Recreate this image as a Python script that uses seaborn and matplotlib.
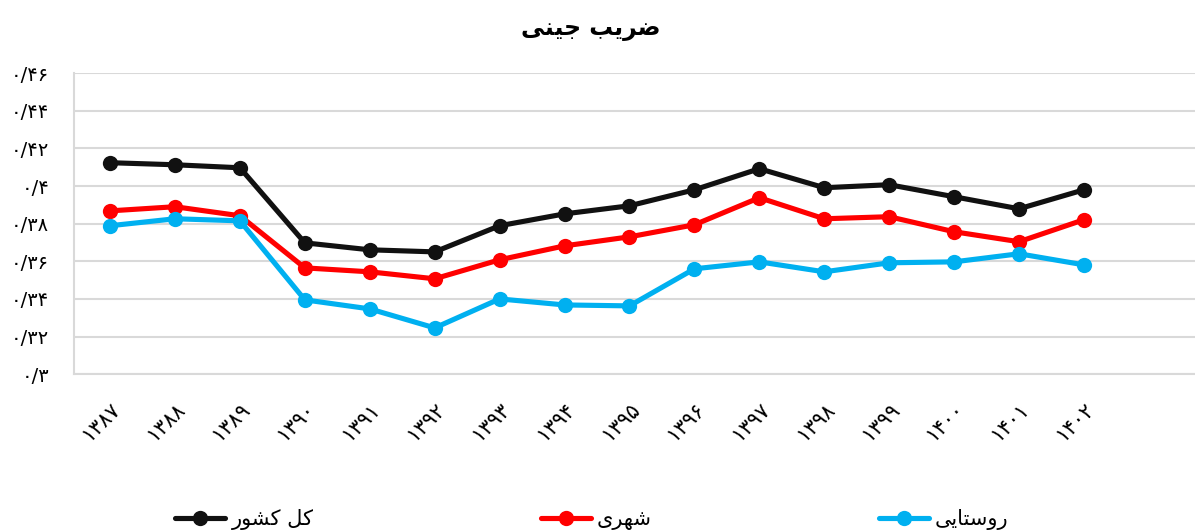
import matplotlib
matplotlib.use("Agg")
import matplotlib.pyplot as plt
import seaborn as sns
import pandas as pd

years = ["۱۳۸۷", "۱۳۸۸", "۱۳۸۹", "۱۳۹۰", "۱۳۹۱", "۱۳۹۲", "۱۳۹۳", "۱۳۹۴",
         "۱۳۹۵", "۱۳۹۶", "۱۳۹۷", "۱۳۹۸", "۱۳۹۹", "۱۴۰۰", "۱۴۰۱", "۱۴۰۲"]
kol = [0.4124, 0.4113, 0.4097, 0.3698, 0.3661, 0.3650, 0.3789, 0.3852,
       0.3895, 0.3980, 0.4092, 0.3991, 0.4007, 0.3943, 0.3879, 0.3980]
shahri = [0.3868, 0.3890, 0.3842, 0.3565, 0.3544, 0.3507, 0.3608, 0.3682,
          0.3730, 0.3794, 0.3938, 0.3826, 0.3837, 0.3757, 0.3704, 0.3821]
roosta = [0.3789, 0.3826, 0.3815, 0.3395, 0.3347, 0.3246, 0.3400, 0.3368,
          0.3363, 0.3560, 0.3597, 0.3544, 0.3592, 0.3597, 0.3640, 0.3581]
series_names = ["کل کشور", "شهری", "روستایی"]
colors = ["#111111", "#ff0000", "#00b0f0"]
title = "ضریب جینی"
yticks = [0.30, 0.32, 0.34, 0.36, 0.38, 0.40, 0.42, 0.44, 0.46]
ytick_labels = ["۰/۳", "۰/۳۲", "۰/۳۴", "۰/۳۶", "۰/۳۸", "۰/۴", "۰/۴۲", "۰/۴۴", "۰/۴۶"]

# simple arabic/persian shaping (matplotlib has no complex text layout)
FORMS = {
    "ا": ("\uFE8D", "\uFE8E", None, None),
    "ب": ("\uFE8F", "\uFE90", "\uFE91", "\uFE92"),
    "ت": ("\uFE95", "\uFE96", "\uFE97", "\uFE98"),
    "ج": ("\uFE9D", "\uFE9E", "\uFE9F", "\uFEA0"),
    "ر": ("\uFEAD", "\uFEAE", None, None),
    "س": ("\uFEB1", "\uFEB2", "\uFEB3", "\uFEB4"),
    "ش": ("\uFEB5", "\uFEB6", "\uFEB7", "\uFEB8"),
    "ض": ("\uFEBD", "\uFEBE", "\uFEBF", "\uFEC0"),
    "ل": ("\uFEDD", "\uFEDE", "\uFEDF", "\uFEE0"),
    "ن": ("\uFEE5", "\uFEE6", "\uFEE7", "\uFEE8"),
    "ه": ("\uFEE9", "\uFEEA", "\uFEEB", "\uFEEC"),
    "و": ("\uFEED", "\uFEEE", None, None),
    "ی": ("\uFBFC", "\uFBFD", "\uFBFE", "\uFBFF"),
    "ک": ("\uFB8E", "\uFB8F", "\uFB90", "\uFB91"),
}


def shape(text):
    out = []
    for i, ch in enumerate(text):
        if ch not in FORMS:
            out.append(ch)
            continue
        prev = text[i - 1] if i > 0 else ""
        nxt = text[i + 1] if i + 1 < len(text) else ""
        join_prev = prev in FORMS and FORMS[prev][2] is not None
        join_next = nxt in FORMS and FORMS[ch][2] is not None
        iso, fin, ini, med = FORMS[ch]
        if join_prev and join_next:
            out.append(med)
        elif join_prev:
            out.append(fin)
        elif join_next:
            out.append(ini)
        else:
            out.append(iso)
    return "".join(out)[::-1]


sns.set_theme(style="white")
plt.rcParams["font.family"] = ["DejaVu Sans"]
plt.rcParams["text.color"] = "black"
plt.rcParams["xtick.color"] = "black"
plt.rcParams["ytick.color"] = "black"

df = pd.DataFrame({"year": years * 3,
                   "value": kol + shahri + roosta,
                   "series": [shape(n) for n in series_names for _ in years]})

fig, ax = plt.subplots(figsize=(11.95, 5.3), dpi=100)
fig.subplots_adjust(left=0.062, right=1.0, top=0.862, bottom=0.294)

sns.lineplot(data=df, x="year", y="value", hue="series", sort=False,
             palette=colors, marker="o", markersize=11, linewidth=3.7,
             markeredgewidth=0, ax=ax)

ax.set_ylim(0.30, 0.46)
ax.set_xlim(-0.554, 16.71)
ax.set_yticks(yticks)
ax.set_yticklabels(ytick_labels, fontsize=14)
ax.yaxis.grid(True, color="#d9d9d9", linewidth=1.5)
ax.set_axisbelow(True)
for s in ["top", "right"]:
    ax.spines[s].set_visible(False)
for s in ["left", "bottom"]:
    ax.spines[s].set_color("#d9d9d9")
    ax.spines[s].set_linewidth(1.5)
ax.tick_params(axis="y", length=0, pad=18)
ax.tick_params(axis="x", length=0, pad=18)
plt.setp(ax.get_xticklabels(), rotation=45, ha="right", rotation_mode="anchor", fontsize=15)
ax.set_xlabel("")
ax.set_ylabel("")
fig.text(0.494, 0.945, shape(title), fontsize=17, fontweight="bold", ha="center", va="center")

ax.legend(loc="upper center", bbox_to_anchor=(0.462, -0.385), ncol=3, frameon=False,
          fontsize=15, handlelength=2.4, columnspacing=10.9, handletextpad=0.3)

fig.savefig("out.png", dpi=100)
